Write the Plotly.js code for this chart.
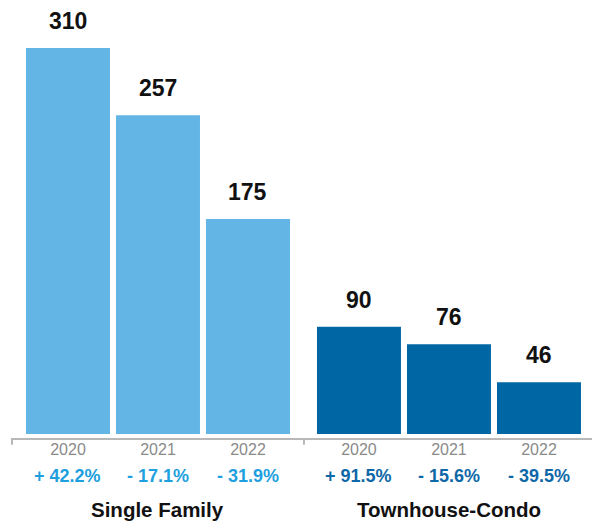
<!DOCTYPE html>
<html>
<head>
<meta charset="utf-8">
<script src="https://cdn.plot.ly/plotly-3.0.1.min.js"></script>
<style>
  html, body { margin: 0; padding: 0; background: #fff; }
  #chart { width: 592px; height: 525px; }
</style>
</head>
<body>
<div id="chart"></div>
<script>
// data
let years = ["2020", "2021", "2022"];
let groups = ["Single Family", "Townhouse-Condo"];
let singleFamily = [310, 257, 175];
let townhouseCondo = [90, 76, 46];
let singleFamilyChange = ["+ 42.2%", "- 17.1%", "- 31.9%"];
let townhouseCondoChange = ["+ 91.5%", "- 15.6%", "- 39.5%"];

let lightBlue = "#62b5e5";
let darkBlue = "#0066a4";
let lightText = "#1e9fde";
let darkText = "#0e68a8";
let font = "Liberation Sans, Arial, sans-serif";

let sfTrace = {
  x: years, y: singleFamily, type: "bar",
  marker: { color: lightBlue },
  xaxis: "x", yaxis: "y", hoverinfo: "skip"
};
let tcTrace = {
  x: years, y: townhouseCondo, type: "bar",
  marker: { color: darkBlue },
  xaxis: "x2", yaxis: "y2", hoverinfo: "skip"
};

// year labels look numeric, so annotations use the category index
let annotations = [];
function addGroup(values, changes, name, xref, yref, color) {
  values.forEach((v, i) => {
    // value over the bar
    annotations.push({
      x: i, y: v, xref: xref, yref: yref,
      text: "<b>" + v + "</b>", showarrow: false,
      yanchor: "bottom", yshift: 12,
      font: { family: font, size: 23, color: "#111" }
    });
    // change under the year
    annotations.push({
      x: i, y: 0, xref: xref, yref: "paper",
      text: "<b>" + changes[i] + "</b>", showarrow: false,
      yanchor: "middle", yshift: -37.5,
      font: { family: font, size: 18, color: color }
    });
  });
  annotations.push({
    x: 1, y: 0, xref: xref, yref: "paper",
    text: "<b>" + name + "</b>", showarrow: false,
    yanchor: "middle", yshift: -71,
    font: { family: font, size: 20.5, color: "#111" }
  });
}
addGroup(singleFamily, singleFamilyChange, groups[0], "x", "y", lightText);
addGroup(townhouseCondo, townhouseCondoChange, groups[1], "x2", "y2", darkText);

let xBase = {
  type: "category", showgrid: false, zeroline: false,
  showline: true, linecolor: "#b8b8b8", linewidth: 2,
  ticks: "", ticklabelstandoff: -4,
  tickfont: { family: font, size: 16, color: "#8a8a8a" },
  fixedrange: true
};
// zero sits just below the axis line, bars are cut off a few px above it
let yBase = {
  range: [2.05, 332.2], showgrid: false, zeroline: false,
  showticklabels: false, showline: false, fixedrange: true
};

let tick = (xref) => ({
  type: "line", xref: xref, x0: 0, x1: 0,
  yref: "paper", y0: 0, y1: -0.016,
  line: { color: "#b8b8b8", width: 2 }
});

let layout = {
  width: 592, height: 525,
  margin: { l: 12, r: 0, t: 20, b: 87 },
  paper_bgcolor: "#fff", plot_bgcolor: "#fff",
  showlegend: false, bargap: 0.067,
  xaxis: Object.assign({}, xBase, { domain: [0, 0.5034], range: [-0.622, 2.622], anchor: "y" }),
  xaxis2: Object.assign({}, xBase, { domain: [0.5034, 1], range: [-0.611, 2.589], anchor: "y2" }),
  yaxis: Object.assign({}, yBase, { anchor: "x" }),
  yaxis2: Object.assign({}, yBase, { anchor: "x2" }),
  shapes: [
    tick("x domain"), tick("x2 domain"),
    // white strip between bar bottoms and the axis line
    { type: "rect", layer: "above", xref: "paper", x0: 0, x1: 1,
      yref: "paper", ysizemode: "pixel", yanchor: 0, y0: 0, y1: 4,
      fillcolor: "#fff", line: { width: 0 } }
  ],
  annotations: annotations
};

Plotly.newPlot("chart", [sfTrace, tcTrace], layout, { displayModeBar: false, staticPlot: true });
</script>
</body>
</html>
